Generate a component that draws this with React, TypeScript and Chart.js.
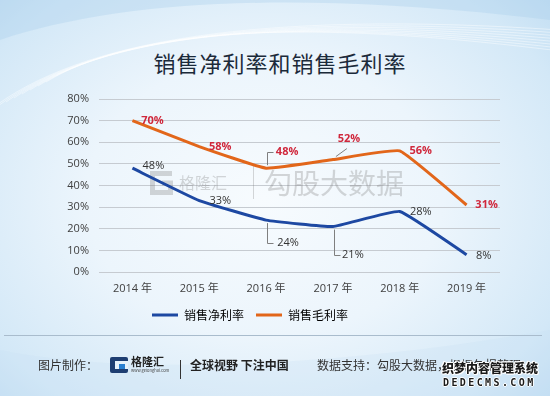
import React, { useEffect, useRef } from "react";
import { Chart, registerables } from "chart.js";

Chart.register(...registerables);

// ---- data ----
const years = ["2014 年", "2015 年", "2016 年", "2017 年", "2018 年", "2019 年"];
const netMargin = [48, 33, 24, 21, 28, 8];
const grossMargin = [70, 58, 48, 52, 56, 31];
const seriesNames = ["销售净利率", "销售毛利率"];
const yMin = 0;
const yMax = 80;
const yStep = 10;

// ---- label placement (style, pixel offsets from each point) ----
type LabelPos = { dx: number; dy: number; leader?: "elbow" | "diag" };
const netLabelPos: LabelPos[] = [
  { dx: 21, dy: -2 },
  { dx: 21, dy: 0 },
  { dx: 22, dy: 23, leader: "elbow" },
  { dx: 20, dy: 28, leader: "elbow" },
  { dx: 21, dy: 0 },
  { dx: 17, dy: 1 },
];
const grossLabelPos: LabelPos[] = [
  { dx: 20, dy: 0 },
  { dx: 21, dy: 0 },
  { dx: 21, dy: -16, leader: "elbow" },
  { dx: 16, dy: -21, leader: "diag" },
  { dx: 21, dy: 0 },
  { dx: 20, dy: 0 },
];

const BLUE = "#1d48a2";
const ORANGE = "#e2661a";
const LATIN = '"Open Sans", "Noto Sans CJK SC", sans-serif';
const CJK = '"Noto Sans CJK SC", sans-serif';

const watermarkPlugin = {
  id: "watermark",
  beforeDatasetsDraw(chart: any) {
    const ctx = chart.ctx as CanvasRenderingContext2D;
    ctx.save();
    const c = "rgba(115,115,115,0.28)";
    ctx.strokeStyle = c;
    ctx.fillStyle = c;
    ctx.lineWidth = 5;
    ctx.lineJoin = "miter";
    ctx.beginPath();
    ctx.moveTo(172, 173.5);
    ctx.lineTo(152.5, 173.5);
    ctx.lineTo(152.5, 192.5);
    ctx.lineTo(170.5, 192.5);
    ctx.lineTo(170.5, 183);
    ctx.lineTo(162, 183);
    ctx.stroke();
    ctx.textBaseline = "middle";
    ctx.textAlign = "left";
    ctx.font = "16px " + CJK;
    ctx.fillText("格隆汇", 179, 183);
    ctx.lineWidth = 1;
    ctx.beginPath();
    ctx.moveTo(253.5, 165);
    ctx.lineTo(253.5, 199);
    ctx.stroke();
    ctx.font = "28px " + CJK;
    ctx.fillText("勾股大数据", 264, 183);
    ctx.restore();
  },
};

const labelPlugin = {
  id: "pointLabels",
  afterDatasetsDraw(chart: any) {
    const ctx = chart.ctx as CanvasRenderingContext2D;
    const configs = [
      { pos: netLabelPos, color: "#333333", weight: "normal" },
      { pos: grossLabelPos, color: "#d0283c", weight: "bold" },
    ];
    chart.data.datasets.forEach((ds: any, di: number) => {
      const meta = chart.getDatasetMeta(di);
      const cfg = configs[di];
      meta.data.forEach((pt: any, i: number) => {
        const p = cfg.pos[i];
        const lx = pt.x + p.dx;
        const ly = pt.y + p.dy;
        ctx.save();
        if (p.leader) {
          ctx.strokeStyle = "#7f7f7f";
          ctx.lineWidth = 1;
          ctx.beginPath();
          if (p.leader === "elbow") {
            const x0 = Math.round(pt.x) + 1.5;
            const sgn = p.dy > 0 ? 1 : -1;
            ctx.moveTo(x0, pt.y + sgn * 3);
            ctx.lineTo(x0, Math.round(ly) + 0.5);
            ctx.lineTo(x0 + 6, Math.round(ly) + 0.5);
          } else {
            ctx.moveTo(pt.x + 3, pt.y - 3);
            ctx.lineTo(pt.x + 14, pt.y - 11);
          }
          ctx.stroke();
        }
        ctx.fillStyle = cfg.color;
        ctx.font = `${cfg.weight} 11px ${LATIN}`;
        ctx.textAlign = "center";
        ctx.textBaseline = "middle";
        ctx.fillText(ds.data[i] + "%", lx, ly);
        ctx.restore();
      });
    });
  },
};

export default function App() {
  const ref = useRef<HTMLCanvasElement>(null);

  useEffect(() => {
    document.body.style.margin = "0";
    const chart = new Chart(ref.current!, {
      type: "line",
      data: {
        labels: years,
        datasets: [
          {
            label: seriesNames[0],
            data: netMargin,
            borderColor: BLUE,
            backgroundColor: BLUE,
            borderWidth: 3,
            pointRadius: 0,
            tension: 0.1,
          },
          {
            label: seriesNames[1],
            data: grossMargin,
            borderColor: ORANGE,
            backgroundColor: ORANGE,
            borderWidth: 3,
            pointRadius: 0,
            tension: 0.1,
          },
        ],
      },
      options: {
        responsive: false,
        animation: false,
        layout: { padding: { left: 0, right: 50, top: 99, bottom: 65 } },
        plugins: {
          title: { display: false },
          tooltip: { enabled: false },
          legend: {
            display: true,
            position: "bottom",
            labels: {
              boxWidth: 26,
              boxHeight: 3,
              padding: 12,
              color: "#404040",
              font: { family: CJK, size: 12 },
              generateLabels: (ch: any) =>
                ch.data.datasets.map((ds: any, i: number) => ({
                  text: ds.label,
                  fillStyle: ds.borderColor,
                  strokeStyle: ds.borderColor,
                  lineWidth: 0,
                  hidden: false,
                  datasetIndex: i,
                })),
            },
          },
        },
        scales: {
          x: {
            offset: true,
            grid: { display: false, drawTicks: false },
            border: { display: false },
            ticks: {
              color: "#404040",
              padding: 10,
              font: { family: LATIN, size: 11 },
              maxRotation: 0,
            },
            afterFit: (s: any) => {
              s.height = 25;
            },
          },
          y: {
            min: yMin,
            max: yMax,
            grid: { color: "#c6cbd1", drawTicks: false, lineWidth: 1 },
            border: { display: false },
            ticks: {
              stepSize: yStep,
              color: "#404040",
              padding: 10,
              font: { family: LATIN, size: 11 },
              callback: (v: any) => v + "%",
            },
            afterFit: (s: any) => {
              s.width = 99;
            },
          },
        },
      },
      plugins: [watermarkPlugin, labelPlugin],
    } as any);
    return () => chart.destroy();
  }, []);

  const footText: React.CSSProperties = {
    position: "absolute",
    top: 356,
    fontSize: 12,
    lineHeight: "18px",
    color: "#333",
    whiteSpace: "nowrap",
    fontFamily: CJK,
  };

  return (
    <div
      style={{
        position: "relative",
        width: 550,
        height: 396,
        overflow: "hidden",
        background:
          "radial-gradient(ellipse 72% 78% at 48% 50%, #f7fbfe 0%, #ecf5fc 45%, #d3e8f7 82%, #bfdcf2 100%)",
        fontFamily: CJK,
      }}
    >
      <svg
        width={550}
        height={396}
        style={{ position: "absolute", left: 0, top: 0 }}
      >
        <path d="M0,40 C120,0 300,-10 550,20 L550,0 L0,0 Z" fill="rgba(170,205,235,0.35)" />
        {[0, 1, 2, 3, 4, 5, 6, 7].map((k) => (
          <path
            key={k}
            d={`M${-10 + k * 8},${110 - k * 4} C${80 + k * 10},${40 - k * 3} ${260 + k * 12},${10 + k * 2} ${560},${30 + k * 3}`}
            fill="none"
            stroke="rgba(255,255,255,0.55)"
            strokeWidth={0.8}
          />
        ))}
        <path d="M0,396 L0,350 C150,380 380,360 550,330 L550,396 Z" fill="rgba(200,225,245,0.25)" />
      </svg>
      <div
        style={{
          position: "absolute",
          left: 0,
          width: 550,
          top: 50,
          textAlign: "center",
          fontSize: 22,
          lineHeight: "24px",
          letterSpacing: 1,
          color: "#1b2a3a",
          fontFamily: CJK,
          paddingLeft: 10,
          boxSizing: "border-box",
        }}
      >
        销售净利率和销售毛利率
      </div>
      <div style={{ position: "absolute", left: 0, top: 0 }}>
        <canvas ref={ref} width={550} height={396} />
      </div>
      <div
        style={{
          position: "absolute",
          left: 4,
          top: 335,
          width: 538,
          height: 1,
          background: "#a9bccd",
        }}
      />
      <div style={{ ...footText, left: 38 }}>图片制作：</div>
      <div
        style={{
          position: "absolute",
          left: 110,
          top: 357,
          width: 18,
          height: 16,
          background: "#1e3e72",
          borderRadius: 2,
        }}
      >
        <div
          style={{
            position: "absolute",
            left: 5,
            top: 4,
            width: 13,
            height: 8,
            background: "#e6f1fa",
          }}
        />
        <div
          style={{
            position: "absolute",
            left: 9,
            top: 7,
            width: 6,
            height: 5,
            background: "#2a7fd0",
          }}
        />
      </div>
      <div
        style={{
          ...footText,
          left: 131,
          top: 353,
          fontSize: 11,
          fontWeight: 700,
          color: "#222",
          lineHeight: "16px",
        }}
      >
        格隆汇
      </div>
      <div
        style={{
          ...footText,
          left: 131,
          top: 368,
          fontSize: 4,
          lineHeight: "5px",
          color: "#444",
        }}
      >
        www.gelonghui.com
      </div>
      <div
        style={{
          position: "absolute",
          left: 180,
          top: 360,
          width: 1,
          height: 19,
          background: "#333",
        }}
      />
      <div style={{ ...footText, left: 190, fontWeight: 700, color: "#222" }}>
        全球视野 下注中国
      </div>
      <div style={{ ...footText, left: 317 }}>数据支持：勾股大数据，根据年报整理</div>
      <div
        style={{
          ...footText,
          left: 442,
          top: 360,
          fontSize: 12,
          fontWeight: 900,
          color: "#1a1a1a",
          lineHeight: "16px",
          textShadow:
            "1px 0 #fff, -1px 0 #fff, 0 1px #fff, 0 -1px #fff, 1px 1px #fff, -1px -1px #fff",
        }}
      >
        织梦内容管理系统
      </div>
      <div
        style={{
          ...footText,
          left: 443,
          top: 377,
          fontSize: 10,
          fontWeight: 700,
          letterSpacing: 2.4,
          color: "#1a1a1a",
          lineHeight: "12px",
          fontFamily: '"DejaVu Sans Mono", monospace',
          textShadow:
            "1px 0 #fff, -1px 0 #fff, 0 1px #fff, 0 -1px #fff",
        }}
      >
        DEDECMS.COM
      </div>
    </div>
  );
}
